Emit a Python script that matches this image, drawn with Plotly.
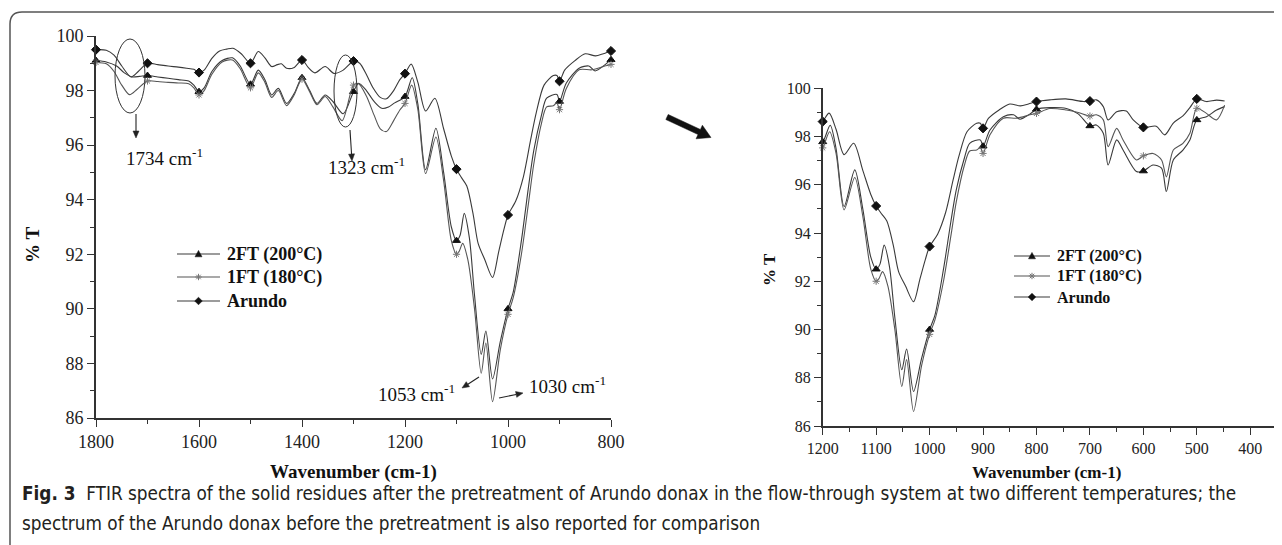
import math
import plotly.graph_objects as go

W, H = 1282, 545

# ---------------- data ----------------
wn_arundo = [1800, 1780, 1765, 1750, 1732, 1718, 1700, 1680, 1660, 1640,
             1624, 1610, 1600, 1590, 1575, 1560, 1546, 1534, 1518, 1500,
             1485, 1472, 1459, 1448, 1440, 1430, 1415, 1400, 1388, 1375,
             1355, 1338, 1320, 1300, 1288, 1274, 1262, 1248, 1236, 1222,
             1210, 1200, 1188, 1175, 1160, 1142, 1125, 1110, 1100, 1090,
             1080, 1068, 1058, 1045, 1030, 1018, 1008, 1000, 985, 970,
             956, 945, 930, 912, 905, 900, 890, 870, 850, 830,
             815, 800, 775, 745, 712, 700, 688, 675, 666, 650,
             632, 619, 600, 576, 560, 544, 526, 513, 500, 482,
             463, 448]
t_arundo = [99.50, 99.48, 99.30, 98.90, 98.50, 98.70, 99.00, 98.95, 98.90, 98.86,
            98.82, 98.78, 98.66, 98.75, 99.18, 99.45, 99.52, 99.55, 99.35, 99.00,
            99.43, 99.20, 98.88, 98.95, 98.98, 98.82, 98.85, 99.12, 98.85, 98.65,
            98.88, 98.63, 98.75, 99.08, 99.00, 98.55, 98.10, 97.75, 97.70, 98.00,
            98.40, 98.62, 98.97, 98.30, 97.25, 97.72, 96.60, 95.60, 95.12, 94.80,
            94.50, 93.50, 92.40, 91.80, 91.15, 92.10, 92.90, 93.44, 93.95, 94.85,
            96.20, 97.20, 98.20, 98.55, 98.55, 98.34, 98.75, 99.10, 99.35, 99.27,
            99.35, 99.45, 99.52, 99.56, 99.45, 99.47, 99.52, 99.24, 98.69, 99.03,
            99.06, 98.69, 98.38, 98.43, 98.07, 98.56, 98.86, 99.20, 99.56, 99.45,
            99.51, 99.47]

wn_2ft = [1800, 1780, 1760, 1745, 1730, 1715, 1700, 1680, 1660, 1640,
          1620, 1610, 1600, 1590, 1575, 1555, 1535, 1520, 1500, 1485,
          1472, 1459, 1446, 1430, 1415, 1400, 1385, 1371, 1355, 1340,
          1320, 1300, 1290, 1275, 1260, 1245, 1232, 1220, 1200, 1186,
          1175, 1160, 1140, 1125, 1110, 1100, 1093, 1085, 1075, 1065,
          1052, 1043, 1030, 1015, 1000, 990, 974, 960, 950, 935,
          925, 905, 900, 887, 862, 843, 831, 812, 800, 775,
          744, 722, 700, 688, 675, 666, 650, 638, 613, 600,
          582, 566, 557, 544, 526, 513, 500, 482, 463, 448]
t_2ft = [99.10, 99.05, 98.90, 98.65, 98.50, 98.52, 98.55, 98.50, 98.45, 98.40,
         98.35, 98.20, 97.96, 98.10, 98.70, 99.10, 99.20, 98.90, 98.23, 98.75,
         98.40, 97.84, 98.08, 97.53, 97.90, 98.47, 98.00, 97.53, 97.84, 97.60,
         97.15, 97.96, 98.27, 98.00, 97.60, 97.35, 97.40, 97.55, 97.78, 98.47,
         97.50, 95.10, 96.62, 95.00, 93.00, 92.50, 92.70, 93.50, 92.60, 90.50,
         88.33, 89.19, 87.43, 88.80, 90.00, 90.60, 92.50, 94.50, 95.80, 97.10,
         97.72, 97.86, 97.60, 98.27, 98.82, 98.90, 98.72, 98.94, 99.13, 99.20,
         99.16, 98.94, 98.44, 98.48, 98.14, 96.82, 97.86, 97.44, 96.55, 96.57,
         96.82, 96.69, 95.72, 97.03, 97.44, 97.86, 98.69, 98.82, 99.10, 99.24]

wn_1ft = [1800, 1780, 1765, 1750, 1735, 1720, 1700, 1680, 1660, 1640,
          1620, 1610, 1600, 1590, 1575, 1555, 1535, 1520, 1500, 1485,
          1472, 1459, 1446, 1430, 1415, 1400, 1385, 1371, 1355, 1340,
          1322, 1300, 1290, 1275, 1260, 1248, 1236, 1222, 1210, 1200,
          1187, 1175, 1160, 1140, 1125, 1110, 1100, 1095, 1088, 1078,
          1065, 1052, 1043, 1030, 1015, 1000, 990, 974, 960, 950,
          935, 925, 912, 905, 900, 887, 862, 837, 812, 800,
          775, 744, 722, 700, 688, 675, 666, 650, 638, 613,
          600, 582, 566, 557, 544, 526, 513, 500, 482, 463,
          448]
t_1ft = [99.03, 98.98, 98.70, 98.20, 97.85, 98.05, 98.35, 98.33, 98.30, 98.28,
         98.25, 98.10, 97.84, 98.00, 98.60, 99.05, 99.12, 98.80, 98.10, 98.65,
         98.30, 97.75, 98.00, 97.45, 97.85, 98.42, 97.95, 97.48, 97.78, 97.40,
         96.90, 98.20, 98.25, 97.80, 97.10, 96.60, 96.50, 96.90, 97.29, 97.53,
         98.20, 97.30, 94.96, 96.30, 94.70, 92.50, 92.00, 92.10, 92.40, 91.80,
         90.00, 87.64, 88.75, 86.60, 88.50, 89.80, 90.40, 92.00, 93.90, 95.30,
         96.80, 97.40, 97.44, 97.55, 97.30, 98.07, 98.76, 98.76, 98.90, 98.96,
         99.16, 99.10, 99.00, 98.85, 98.90, 98.69, 97.58, 98.34, 97.86, 97.03,
         97.20, 97.30, 97.03, 96.33, 97.44, 97.72, 98.14, 99.17, 98.96, 98.69,
         99.30]

series_names = ["2FT (200°C)", "1FT (180°C)", "Arundo"]
peak_labels = ["1734", "1323", "1053", "1030"]
left_xticks = [1800, 1600, 1400, 1200, 1000, 800]
right_xticks = [1200, 1100, 1000, 900, 800, 700, 600, 500, 400]
yticks = [86, 88, 90, 92, 94, 96, 98, 100]
caption_1 = ("<b>Fig. 3</b>  FTIR spectra of the solid residues after the pretreatment of "
             "Arundo donax in the flow-through system at two different temperatures; the")
caption_2 = "spectrum of the Arundo donax before the pretreatment is also reported for comparison"

# ---------------- helpers ----------------
# the page body adds an 8 px offset; positions below are given in screen pixels
OFF = 8

def px(x):
    return (x - OFF) / W

def py(y):
    return 1 - (y - OFF) / H

def poly(pts):
    return "M " + " L ".join("%.5f,%.5f" % (px(a), py(b)) for a, b in pts) + " Z"

LINE_C = "#3a3a3a"
AX_C = "#333333"
SERIF = "Liberation Serif, Times New Roman, serif"

styles = {
    "2FT (200°C)": dict(data=(wn_2ft, t_2ft), symbol="triangle-up", msize=7, mcolor="#111111",
                        lcolor=LINE_C),
    "1FT (180°C)": dict(data=(wn_1ft, t_1ft), symbol="asterisk-open", msize=6, mcolor="#777777",
                        lcolor="#555555"),
    "Arundo": dict(data=(wn_arundo, t_arundo), symbol="diamond", msize=7, mcolor="#111111",
                   lcolor=LINE_C),
}

fig = go.Figure()

panels = [("x", "y", 1800, 800), ("x2", "y2", 1200, 350)]
for name in series_names:
    st = styles[name]
    wn, tt = st["data"]
    for xa, ya, hi, lo in panels:
        fig.add_trace(go.Scatter(
            x=wn, y=tt, mode="lines", xaxis=xa, yaxis=ya,
            line=dict(color=st["lcolor"], width=1.1, shape="spline", smoothing=0.8),
            showlegend=False, hoverinfo="skip"))
        mx = [w for w in wn if w % 100 == 0 and lo <= w <= hi]
        my = [t for w, t in zip(wn, tt) if w % 100 == 0 and lo <= w <= hi]
        fig.add_trace(go.Scatter(
            x=mx, y=my, mode="markers", xaxis=xa, yaxis=ya, cliponaxis=False,
            marker=dict(symbol=st["symbol"], size=st["msize"], color=st["mcolor"],
                        line=dict(color=st["mcolor"], width=1)),
            showlegend=False, hoverinfo="skip"))

def axis_common(size):
    return dict(showline=True, linecolor=AX_C, linewidth=1.6, ticks="outside",
                ticklen=7, tickwidth=1.4, tickcolor=AX_C, showgrid=False, zeroline=False,
                automargin=False,
                tickfont=dict(family=SERIF, size=size, color="#222222"))

fig.update_layout(
    width=W, height=H, margin=dict(l=0, r=0, t=0, b=0, autoexpand=False),
    paper_bgcolor="white", plot_bgcolor="white", showlegend=False,
    xaxis=dict(domain=[px(96), px(611)], range=[1800, 800], anchor="y",
               tickvals=left_xticks,
               minor=dict(dtick=100, ticks="outside", ticklen=4, tickcolor=AX_C, tickwidth=1.2),
               **axis_common(18)),
    yaxis=dict(domain=[py(418), py(36)], range=[86, 100], anchor="x",
               tickvals=yticks,
               minor=dict(dtick=1, ticks="outside", ticklen=4, tickcolor=AX_C, tickwidth=1.2),
               **axis_common(18)),
    xaxis2=dict(domain=[px(822.7), px(1277)], range=[1200, 350], anchor="y2",
                tickvals=right_xticks,
                minor=dict(dtick=50, ticks="outside", ticklen=4, tickcolor=AX_C, tickwidth=1.2),
                **axis_common(16)),
    yaxis2=dict(domain=[py(426), py(88.3)], range=[86, 100], anchor="x2",
                tickvals=yticks,
                minor=dict(dtick=1, ticks="outside", ticklen=4, tickcolor=AX_C, tickwidth=1.2),
                **axis_common(16)),
)

annotations = []
shapes = []

def text(x, y, s, size, angle=0, anchor="center", family=SERIF, color="#111111"):
    annotations.append(dict(x=px(x), y=py(y), xref="paper", yref="paper", text=s,
                            showarrow=False, textangle=angle, xanchor=anchor, yanchor="middle",
                            font=dict(family=family, size=size, color=color)))

def arrow(x0, y0, x1, y1, hl=7.0, hw=3.0):
    L = math.hypot(x1 - x0, y1 - y0)
    ux, uy = (x1 - x0) / L, (y1 - y0) / L
    nx, ny = -uy, ux
    bx, by = x1 - ux * hl, y1 - uy * hl
    shapes.append(dict(type="line", xref="paper", yref="paper",
                       x0=px(x0), y0=py(y0), x1=px(bx), y1=py(by),
                       line=dict(color="#222222", width=1.1)))
    shapes.append(dict(type="path", xref="paper", yref="paper",
                       path=poly([(x1, y1), (bx + nx * hw, by + ny * hw), (bx - nx * hw, by - ny * hw)]),
                       fillcolor="#222222", line=dict(color="#222222", width=0.5)))

# axis titles
text(353, 472, "<b>Wavenumber (cm-1)</b>", 19)
text(1046, 472, "<b>Wavenumber (cm-1)</b>", 17)
text(33, 245, "<b>% T</b>", 19, angle=-90)
text(769, 270, "<b>% T</b>", 17, angle=-90)

# peak labels and arrows
text(124, 157, peak_labels[0] + " cm<sup>-1</sup>", 19, anchor="left")
text(326, 166, peak_labels[1] + " cm<sup>-1</sup>", 19, anchor="left")
text(376, 393, peak_labels[2] + " cm<sup>-1</sup>", 19, anchor="left")
text(527, 385, peak_labels[3] + " cm<sup>-1</sup>", 19, anchor="left")
arrow(136, 114, 136, 138)
arrow(350, 130, 352, 161)
arrow(479, 377, 462, 388)
arrow(499, 398, 523, 393)

# caption
CAP = "Liberation Sans Narrow, DejaVu Sans Condensed, Arial Narrow, Liberation Sans, sans-serif"
text(20, 493, caption_1, 18.8, anchor="left", family=CAP, color="#231f20")
text(20, 523, caption_2, 18.8, anchor="left", family=CAP, color="#231f20")

# hand-drawn legends (line sample + symbol + bold label)
def legend_block(x0, x1, rows, size):
    cx = (x0 + x1) / 2
    for name, ry in zip(series_names, rows):
        st = styles[name]
        shapes.append(dict(type="line", xref="paper", yref="paper",
                           x0=px(x0), x1=px(x1), y0=py(ry), y1=py(ry),
                           line=dict(color=st["lcolor"], width=1.1)))
        if st["symbol"] == "triangle-up":
            shapes.append(dict(type="path", xref="paper", yref="paper",
                               path=poly([(cx - 3.5, ry + 2.8), (cx + 3.5, ry + 2.8), (cx, ry - 3.6)]),
                               fillcolor=st["mcolor"], line=dict(color=st["mcolor"], width=0.5)))
        elif st["symbol"] == "diamond":
            shapes.append(dict(type="path", xref="paper", yref="paper",
                               path=poly([(cx, ry - 3.8), (cx + 3.8, ry), (cx, ry + 3.8), (cx - 3.8, ry)]),
                               fillcolor=st["mcolor"], line=dict(color=st["mcolor"], width=0.5)))
        else:
            r = 3.2
            segs = [((cx - r, ry), (cx + r, ry)), ((cx, ry - r), (cx, ry + r)),
                    ((cx - r * .7, ry - r * .7), (cx + r * .7, ry + r * .7)),
                    ((cx - r * .7, ry + r * .7), (cx + r * .7, ry - r * .7))]
            path = " ".join("M %.5f,%.5f L %.5f,%.5f" % (px(a[0]), py(a[1]), px(b[0]), py(b[1]))
                            for a, b in segs)
            shapes.append(dict(type="path", xref="paper", yref="paper", path=path,
                               line=dict(color=st["mcolor"], width=1)))
        text(x1 + 5, ry, "<b>%s</b>" % name, size, anchor="left")

legend_block(177, 220, [254, 277, 301], 18)
legend_block(1014, 1050, [256, 276, 297], 16)

fig.update_layout(annotations=annotations)

# ellipses around the marked bands
for (x0, x1, y0, y1) in [(115, 145, 39, 113), (334, 357, 55, 127)]:
    shapes.append(dict(type="circle", xref="paper", yref="paper",
                       x0=px(x0), x1=px(x1), y0=py(y1), y1=py(y0),
                       line=dict(color="#333333", width=1)))

# thick black arrow between the panels
tx, ty, hx, hy = 667, 117, 711, 137.5
L = math.hypot(hx - tx, hy - ty)
ux, uy = (hx - tx) / L, (hy - ty) / L
nx, ny = -uy, ux
bw, hw, hl = 2.8, 7.5, 13
bx, by = hx - ux * hl, hy - uy * hl
shapes.append(dict(type="path", xref="paper", yref="paper",
                   path=poly([(tx + nx * bw, ty + ny * bw), (bx + nx * bw, by + ny * bw),
                              (bx + nx * hw, by + ny * hw), (hx, hy),
                              (bx - nx * hw, by - ny * hw), (bx - nx * bw, by - ny * bw),
                              (tx - nx * bw, ty - ny * bw)]),
                   fillcolor="#111111", line=dict(color="#111111", width=0.5)))

# outer rounded frame
frame = "M %.5f,%.5f L %.5f,%.5f Q %.5f,%.5f %.5f,%.5f L %.5f,%.5f" % (
    px(10), py(560), px(10), py(24), px(10), py(12), px(22), py(12), px(1295), py(12))
shapes.append(dict(type="path", xref="paper", yref="paper", path=frame,
                   line=dict(color="#555555", width=1.5)))

fig.update_layout(shapes=shapes)

fig.write_html("out.html")
